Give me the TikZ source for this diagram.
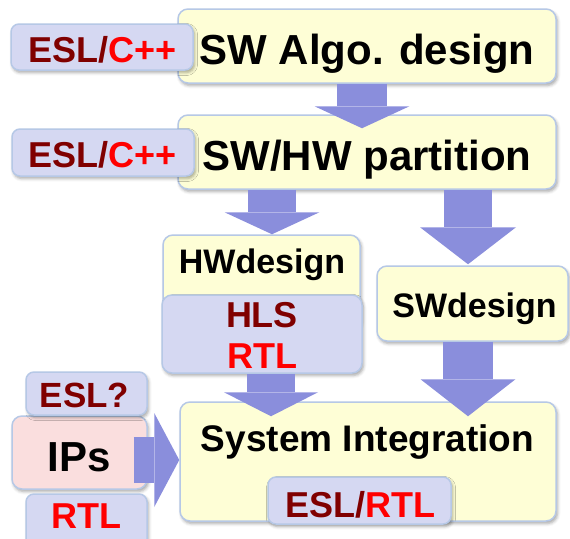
\documentclass[tikz,border=0pt]{standalone}
\usepackage{fontspec}
\setmainfont{Liberation Sans}
\usetikzlibrary{arrows.meta,shadows.blur}

\definecolor{boxyellow}{HTML}{FEFED6}
\definecolor{boxlav}{HTML}{D5D8F2}
\definecolor{boxpink}{HTML}{FADEDE}
\definecolor{boxedge}{HTML}{B6C8E6}
\definecolor{flowblue}{HTML}{8A8EDC}
\definecolor{eslred}{HTML}{800000}
\definecolor{rtlred}{HTML}{FF0000}

\newcommand{\fsz}[1]{\fontsize{#1}{#1}\selectfont\bfseries}

\tikzset{
  panel/.style={draw=boxedge, line width=1.5pt, rounded corners=10pt,
    inner sep=0pt,
    blur shadow={shadow xshift=1.5pt, shadow yshift=-2.5pt,
      shadow blur radius=3pt, shadow opacity=35}},
  stagebox/.style={panel, fill=boxyellow},
  langtag/.style={panel, fill=boxlav, rounded corners=8pt},
  ipbox/.style={panel, fill=boxpink},
  caption/.style={inner sep=0pt, anchor=base},
  flow/.style n args={3}{draw=flowblue, line width=#1,
    -{Triangle[length=#3, width=#2, line width=0pt]}},
}

\begin{document}
\begin{tikzpicture}[x=1pt, y=-1pt]
\useasboundingbox (0,0) rectangle (570,538);

% algorithm stage with its language tag
\node[stagebox, minimum width=378pt, minimum height=74pt] (algo) at (367,46) {};
\node[caption, font=\fsz{42}] (algotxt) at (367,64) {SW Algo. design};
\node[langtag, minimum width=182pt, minimum height=46pt] (algotag) at (102,47) {};
\node[caption, font=\fsz{36}] (algotagtxt) at (102.5,62)
  {\textcolor{eslred}{ESL/}\textcolor{rtlred}{C++}};

% partition stage with its language tag
\node[stagebox, minimum width=378pt, minimum height=74pt] (part) at (367,152) {};
\node[caption, font=\fsz{42}] (parttxt) at (367,170) {SW/HW partition};
\node[langtag, minimum width=182pt, minimum height=47pt] (parttag) at (103,152.5) {};
\node[caption, font=\fsz{36}] (parttagtxt) at (102.5,167)
  {\textcolor{eslred}{ESL/}\textcolor{rtlred}{C++}};

% hardware branch
\node[stagebox, minimum width=197pt, minimum height=95pt] (hw) at (261.5,282.5) {};
\node[caption, font=\fsz{34}] (hwtxt) at (262,273) {HWdesign};
\node[langtag, rounded corners=10pt, minimum width=200pt, minimum height=78pt] (hls) at (262,334) {};
\node[caption, font=\fsz{36}, text=eslred] (hlstxt) at (262,327) {HLS};
\node[caption, font=\fsz{36}, text=rtlred] (hlsrtl) at (262,368) {RTL};

% software branch
\node[stagebox, minimum width=191pt, minimum height=75pt] (sw) at (472.5,303.5) {};
\node[caption, font=\fsz{34}] (swtxt) at (474.5,317) {SWdesign};

% integration stage
\node[stagebox, minimum width=376pt, minimum height=119pt] (sys) at (368,461.5) {};
\node[caption, font=\fsz{37}] (systxt) at (367.5,451) {System Integration};
\node[langtag, minimum width=183pt, minimum height=47pt] (systag) at (359.5,500.5) {};
\node[caption, font=\fsz{36}] (systagtxt) at (360,517)
  {\textcolor{eslred}{ESL/}\textcolor{rtlred}{RTL}};

% third-party IP blocks
\node[ipbox, minimum width=135pt, minimum height=73pt] (ip) at (79.5,452.5) {};
\node[caption, font=\fsz{42}] (iptxt) at (79,471) {IPs};
\node[langtag, minimum width=121pt, minimum height=43pt] (iptagtop) at (86.5,393.5) {};
\node[caption, font=\fsz{35}, text=eslred] (iptagtoptxt) at (84.5,407) {ESL?};
\node[langtag, minimum width=121pt, minimum height=58pt] (iptagbot) at (86.5,523) {};
\node[caption, font=\fsz{36}, text=rtlred] (iptagbottxt) at (86.5,528) {RTL};

% flow arrows
\coordinate (toPart) at ([xshift=-5pt, yshift=-14pt]part.north);
\draw[flow={50pt}{95pt}{22pt}] (algo.south -| toPart) -- (toPart);

\coordinate (toHw) at ([xshift=10.5pt]hw.north);
\draw[flow={48pt}{95pt}{22pt}] (part.south -| toHw) -- (toHw);

\coordinate (toSw) at ([xshift=-4.5pt, yshift=1pt]sw.north);
\draw[flow={48pt}{96pt}{37pt}] (part.south -| toSw) -- (toSw);

\coordinate (fromHw) at ([xshift=9pt]hls.south);
\draw[flow={48pt}{94pt}{24pt}] (fromHw) -- ([yshift=-15pt]sys.north -| fromHw);

\coordinate (fromSw) at ([xshift=-4.5pt]sw.south);
\draw[flow={50pt}{95pt}{37pt}] (fromSw) -- ([yshift=-15pt]sys.north -| fromSw);

\coordinate (fromIp) at ([xshift=-14pt, yshift=-7.5pt]ip.east);
\draw[flow={46pt}{94pt}{25pt}] (fromIp) -- (sys.west |- fromIp);
\end{tikzpicture}
\end{document}
